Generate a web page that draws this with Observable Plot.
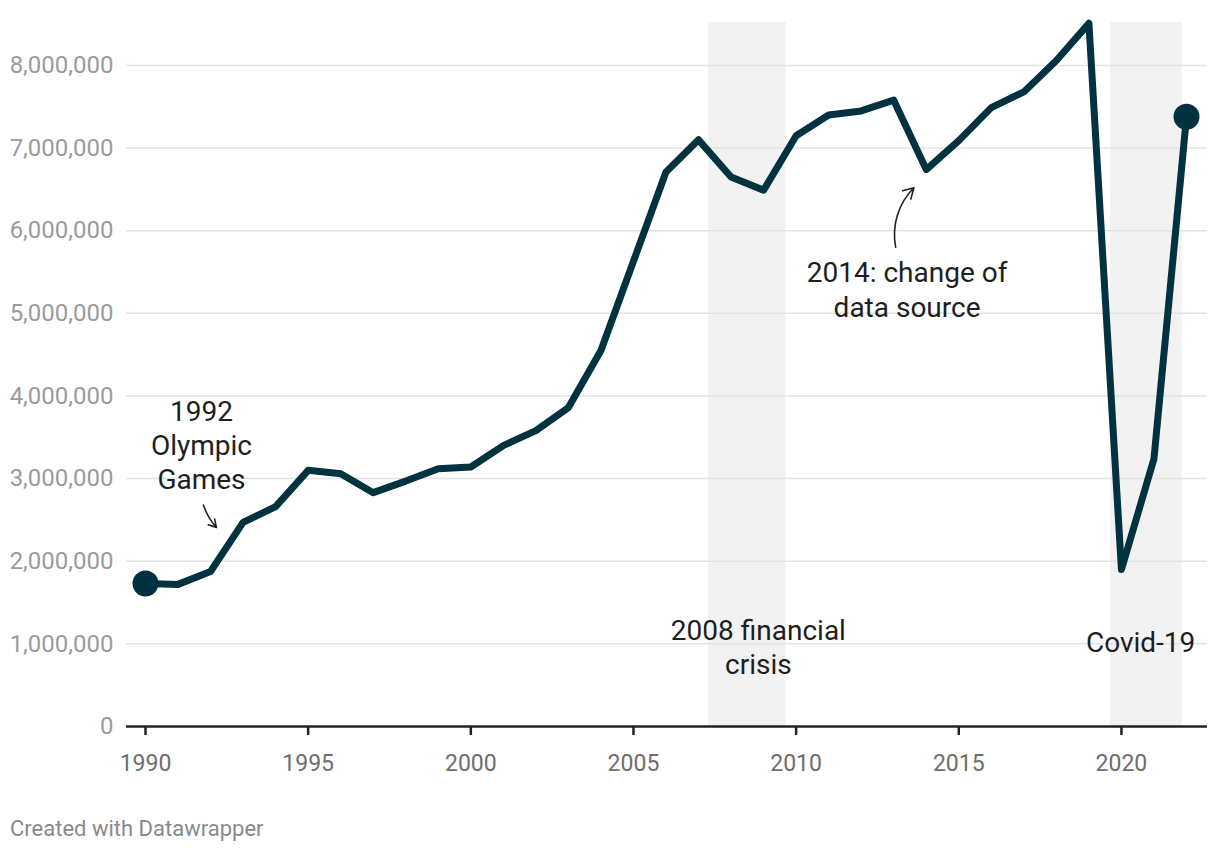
<!DOCTYPE html>
<html>
<head>
<meta charset="utf-8">
<script src="https://cdn.jsdelivr.net/npm/d3@7"></script>
<script src="https://cdn.jsdelivr.net/npm/@observablehq/plot@0.6"></script>
<style>
  html, body { margin: 0; padding: 0; background: #fff; }
  body { width: 1220px; height: 852px; position: relative; font-family: Roboto, sans-serif; }
  #chart { position: absolute; left: 0; top: 0; }
  #caption { position: absolute; left: 10px; top: 816px; font-size: 22px; color: #8a8a8a; font-family: Roboto, sans-serif; }
</style>
</head>
<body>
<div id="chart"></div>
<div id="caption">Created with Datawrapper</div>
<script>
// ---- data ----
const years = [1990,1991,1992,1993,1994,1995,1996,1997,1998,1999,2000,2001,2002,2003,2004,2005,2006,2007,2008,2009,2010,2011,2012,2013,2014,2015,2016,2017,2018,2019,2020,2021,2022];
const visitors = [1730000,1720000,1876000,2470000,2660000,3100000,3060000,2830000,2970000,3120000,3140000,3400000,3580000,3860000,4550000,5630000,6710000,7100000,6650000,6490000,7150000,7400000,7450000,7580000,6740000,7090000,7490000,7680000,8060000,8510000,1900000,3240000,7380000];
const xTicks = [1990,1995,2000,2005,2010,2015,2020];
const yTicks = [0,1000000,2000000,3000000,4000000,5000000,6000000,7000000,8000000];
const shadeStart = [2007.31, 2019.66];
const shadeEnd = [2009.69, 2021.87];
const noteText = ["1992\nOlympic\nGames", "2014: change of\ndata source", "2008 financial\ncrisis", "Covid-19"];
const noteYear = [1991.72, 2013.41, 2008.84, 2020.59];
const noteValue = [3420000, 5300000, 970000, 1030000];
const arrowFromYear = [1991.78, 2013.06];
const arrowFromValue = [2680000, 5800000];
const arrowToYear = [1992.18, 2013.62];
const arrowToValue = [2410000, 6520000];

const series = years.map((y, i) => ({year: y, value: visitors[i]}));
const shades = shadeStart.map((s, i) => ({x1: s, x2: shadeEnd[i]}));
const notes = noteText.map((t, i) => ({text: t, x: noteYear[i], y: noteValue[i]}));
const arrows = arrowFromYear.map((x, i) => ({x1: x, y1: arrowFromValue[i], x2: arrowToYear[i], y2: arrowToValue[i]}));

const lineColor = "#00323f";
const arrowStyle = {x1: "x1", y1: "y1", x2: "x2", y2: "y2", stroke: "#222", strokeWidth: 1.6, headLength: 11};

const chart = Plot.plot({
  width: 1220,
  height: 790,
  marginLeft: 126,
  marginRight: 13,
  marginTop: 22,
  marginBottom: 64,
  style: {fontFamily: "Roboto, sans-serif", background: "transparent"},
  x: {domain: [1990, 2022], range: [145, 1186]},
  y: {domain: [0, 8520000]},
  marks: [
    Plot.rect(shades, {x1: "x1", x2: "x2", fill: "#f2f2f2"}),
    Plot.gridY(yTicks.filter(d => d > 0), {stroke: "#e3e3e3", strokeOpacity: 1, strokeWidth: 1.5}),
    Plot.axisY({ticks: yTicks, tickSize: 0, tickPadding: 13, tickFormat: d3.format(","), fill: "#9b9b9b", fontSize: 24, label: null}),
    Plot.axisX({ticks: xTicks, tickSize: 9, tickPadding: 19, tickFormat: d => String(d), stroke: "#222", strokeWidth: 2.5, fill: "#6e6e6e", fontSize: 23, label: null}),
    Plot.ruleY([0], {stroke: "#222", strokeWidth: 2.5}),
    Plot.line(series, {x: "year", y: "value", stroke: lineColor, strokeWidth: 7, strokeLinejoin: "round", strokeLinecap: "round"}),
    Plot.dot([series[0], series[series.length - 1]], {x: "year", y: "value", r: 13, fill: lineColor, stroke: null}),
    Plot.text(notes, {x: "x", y: "y", text: "text", fontSize: 28, fill: "#1e1e1e", lineHeight: 1.22, textAnchor: "middle", lineAnchor: "middle"}),
    Plot.arrow(arrows.slice(0, 1), {...arrowStyle, bend: -12}),
    Plot.arrow(arrows.slice(1, 2), {...arrowStyle, bend: 28})
  ]
});
document.getElementById("chart").appendChild(chart);
</script>
</body>
</html>
